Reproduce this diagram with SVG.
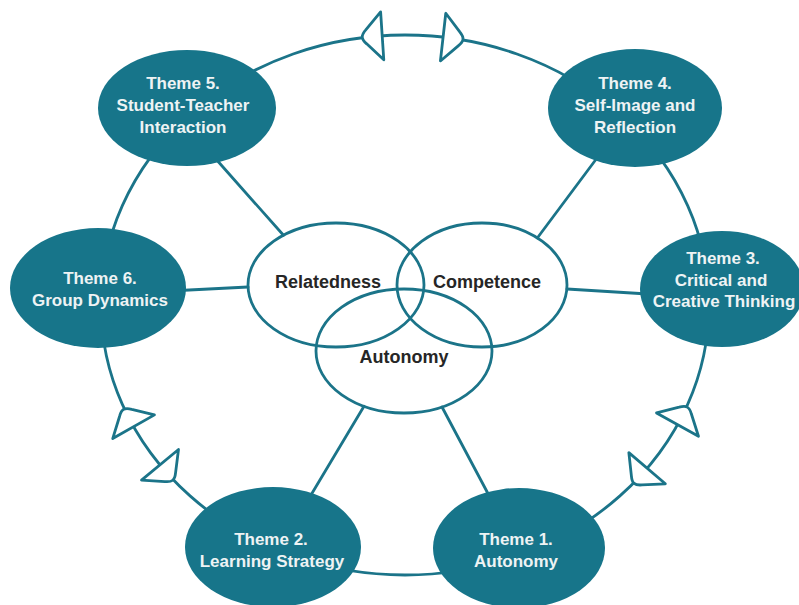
<svg xmlns="http://www.w3.org/2000/svg" width="799" height="605" viewBox="0 0 799 605">
  <defs>
    <!-- cone-shaped coupling placed on the outer ring -->
    <path id="cone" d="M0,-24 L-16,-7 Q-20,-3 -20,0 Q-20,3 -16,7 L0,24 Z"/>
  </defs>
  <style>
    .line { fill: none; stroke: #1b7489; stroke-width: 2.8; stroke-linecap: round; }
    .cone { fill: #ffffff; stroke: #1b7489; stroke-width: 2.8; stroke-linejoin: round; }
    .theme { fill: #17758a; }
    .need { fill: none; stroke: #1b7489; stroke-width: 2.8; }
    .tt { font-family: "Liberation Sans", Arial, sans-serif; font-weight: bold; font-size: 17px; fill: #eef3f4; text-anchor: middle; }
    .nt { font-family: "Liberation Sans", Arial, sans-serif; font-weight: bold; font-size: 18px; fill: #262626; text-anchor: middle; }
  </style>
  <rect width="799" height="605" fill="#ffffff"/>

  <g id="connectors">
    <!-- outer ring linking the themes -->
    <ellipse class="line" cx="405" cy="305" rx="304" ry="270"/>
    <use href="#cone" class="cone" transform="translate(382.2,35.8) rotate(-3.8)"/>
    <use href="#cone" class="cone" transform="translate(443.1,37.1) rotate(186.4)"/>
    <use href="#cone" class="cone" transform="translate(133.6,426.7) rotate(60.4)"/>
    <use href="#cone" class="cone" transform="translate(160,464.8) rotate(230.4)"/>
    <use href="#cone" class="cone" transform="translate(677.5,424.6) rotate(119.1)"/>
    <use href="#cone" class="cone" transform="translate(647.1,468.2) rotate(-49.5)"/>
    <!-- spokes from themes to the three needs -->
    <line class="line" x1="215" y1="158" x2="283.5" y2="235.3"/>
    <line class="line" x1="150" y1="292" x2="248" y2="287"/>
    <line class="line" x1="600" y1="154" x2="537.3" y2="238"/>
    <line class="line" x1="567" y1="289" x2="680" y2="296"/>
    <line class="line" x1="364" y1="406.3" x2="305" y2="505"/>
    <line class="line" x1="442" y1="407" x2="493" y2="503"/>
  </g>

  <g id="need-relatedness">
    <ellipse class="need" cx="336" cy="285" rx="88" ry="62"/>
    <text class="nt" x="328" y="288">Relatedness</text>
  </g>
  <g id="need-competence">
    <ellipse class="need" cx="482" cy="285" rx="85" ry="62"/>
    <text class="nt" x="487" y="288">Competence</text>
  </g>
  <g id="need-autonomy">
    <ellipse class="need" cx="404" cy="351" rx="88" ry="62"/>
    <text class="nt" x="404" y="363">Autonomy</text>
  </g>

  <g id="theme-5">
    <ellipse class="theme" cx="187" cy="108" rx="89" ry="58"/>
    <text class="tt" x="183" y="89">Theme 5.</text>
    <text class="tt" x="183" y="111">Student-Teacher</text>
    <text class="tt" x="183" y="133">Interaction</text>
  </g>
  <g id="theme-4">
    <ellipse class="theme" cx="635" cy="108" rx="87" ry="59"/>
    <text class="tt" x="635" y="89">Theme 4.</text>
    <text class="tt" x="635" y="111">Self-Image and</text>
    <text class="tt" x="635" y="133">Reflection</text>
  </g>
  <g id="theme-6">
    <ellipse class="theme" cx="98" cy="288" rx="88" ry="60"/>
    <text class="tt" x="100" y="284">Theme 6.</text>
    <text class="tt" x="100" y="306">Group Dynamics</text>
  </g>
  <g id="theme-3">
    <ellipse class="theme" cx="722" cy="289" rx="82" ry="58"/>
    <text class="tt" x="723" y="264">Theme 3.</text>
    <text class="tt" x="721" y="286">Critical and</text>
    <text class="tt" x="724" y="307">Creative Thinking</text>
  </g>
  <g id="theme-2">
    <ellipse class="theme" cx="273" cy="547" rx="88" ry="60"/>
    <text class="tt" x="271" y="545">Theme 2.</text>
    <text class="tt" x="272" y="567">Learning Strategy</text>
  </g>
  <g id="theme-1">
    <ellipse class="theme" cx="519" cy="548" rx="86" ry="60"/>
    <text class="tt" x="516" y="545">Theme 1.</text>
    <text class="tt" x="516" y="567">Autonomy</text>
  </g>
</svg>
